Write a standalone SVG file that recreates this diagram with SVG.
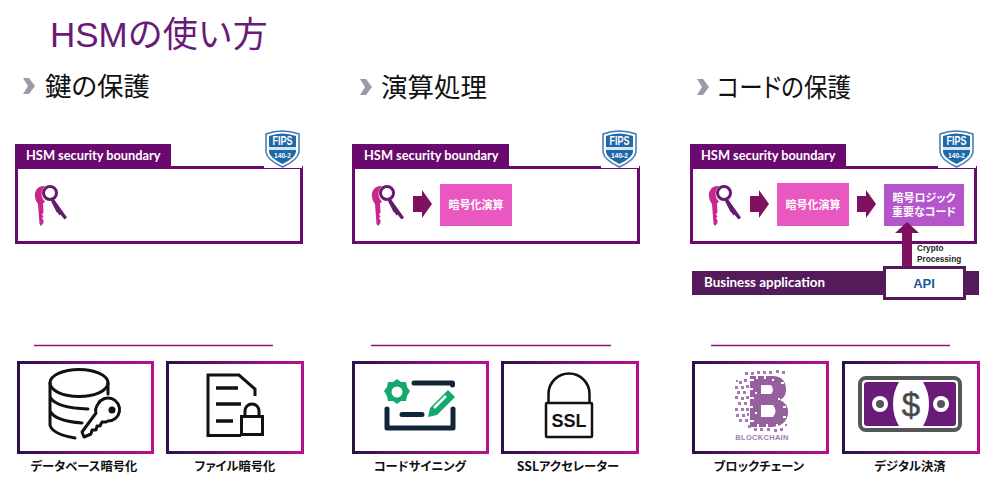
<svg xmlns="http://www.w3.org/2000/svg" width="1000" height="490" viewBox="0 0 1000 490">
<style>
text{font-family:"Liberation Sans","Noto Sans CJK JP",sans-serif}
.title{font-size:35px;fill:#6a1b7a}
.head{font-size:26.500px;fill:#111;font-feature-settings:"palt"}
.tabt{font-family:Lato,"Noto Sans",sans-serif;font-size:12.800px;font-weight:700;fill:#fff}
.tab{fill:#6a0a6e}
.bound{fill:#fff;stroke:#6a0a6e;stroke-width:3}
.proc{fill:#e858c0}
.wt{font-family:"Noto Sans CJK JP",sans-serif;font-size:11px;font-weight:700;fill:#fff;text-anchor:middle;font-feature-settings:"palt"}
.arrow{fill:#801060}
.cap{font-family:"Noto Sans CJK JP",sans-serif;font-size:12.300px;font-weight:700;fill:#111;text-anchor:middle;font-feature-settings:"palt"}
.card{fill:#fff;stroke:url(#cardg);stroke-width:3}
.rule{stroke:#8e1080;stroke-width:1.500}
.ink{fill:none;stroke:#111;stroke-width:3;stroke-linecap:round;stroke-linejoin:round}
.fipst{font-family:"Liberation Sans",sans-serif;font-weight:700;fill:#fff;text-anchor:middle}
</style>
<defs>
<linearGradient id="cardg" x1="0" y1="0" x2="1" y2="0"><stop offset="0" stop-color="#2a1248"/><stop offset=".5" stop-color="#7a0f78"/><stop offset="1" stop-color="#b8108c"/></linearGradient>
<path id="chev" d="M0 0h6l6 8-6 8H0l5-8z" fill="#9a9aa6"/>
<g id="keys">
<path d="M10 1C3 0-1 6 0 12c.5 3 1.500 5 3 7l1.500 20 1.500 2 2.500-3v-3l-1.500-1.500 1.500-2-1.500-2 1.500-2-.5-9 2-2C6 13 5 6 10 1z" fill="#c8288e"/>
<circle cx="15" cy="8" r="6.500" fill="#fff" stroke="#641a6e" stroke-width="3"/>
<path d="M18.500 13.500l13.500 19-2.500 2-4-5-1 1-2-3-1-.5-5.500-11z" fill="#641a6e"/>
</g>
<g id="shield">
<rect x="-1" y="35" width="38" height="3" fill="#fff"/>
<path d="M1 4Q17-2 34 4V22Q33 30 17.500 37Q2 30 1 22Z" fill="#fff" stroke="#3c78ad" stroke-width="1.500"/>
<path d="M4 6Q17 1 31 6V22Q30 28 17.500 34Q5 28 4 22Z" fill="#1e69a8"/>
<rect x="4" y="17" width="27" height="3" fill="#d8e4ef"/>
</g>
</defs>
<rect width="1000" height="490" fill="#fff"/>
<text class="title" x="50" y="47">HSMの使い方</text>

<g id="col1-head"><use href="#chev" x="23" y="78"/><text class="head" x="45" y="96">鍵の保護</text></g>
<g id="col2-head"><use href="#chev" x="360" y="79"/><text class="head" x="381" y="97">演算処理</text></g>
<g id="col3-head"><use href="#chev" x="697" y="79"/><text class="head" x="717" y="97" textLength="134" lengthAdjust="spacingAndGlyphs">コードの保護</text></g>

<g id="boundary1">
<rect class="bound" x="16.500" y="167.500" width="285" height="75"/>
<rect class="tab" x="15" y="144" width="156" height="23"/>
<text class="tabt" x="26" y="160">HSM security boundary</text>
<g id="fips1"><use href="#shield" x="265" y="130"/><text class="fipst" x="282.500" y="145" font-size="12" textLength="20" lengthAdjust="spacingAndGlyphs">FIPS</text><text class="fipst" x="282.500" y="158" font-size="7.500" textLength="17" lengthAdjust="spacingAndGlyphs">140-2</text></g>
<use href="#keys" x="35" y="185"/>
</g>
<g id="boundary2">
<rect class="bound" x="353.500" y="167.500" width="285" height="75"/>
<rect class="tab" x="352" y="144" width="157" height="23"/>
<text class="tabt" x="364" y="160">HSM security boundary</text>
<g id="fips2"><use href="#shield" x="602" y="130"/><text class="fipst" x="619.500" y="145" font-size="12" textLength="20" lengthAdjust="spacingAndGlyphs">FIPS</text><text class="fipst" x="619.500" y="158" font-size="7.500" textLength="17" lengthAdjust="spacingAndGlyphs">140-2</text></g>
<use href="#keys" x="372" y="185"/>
</g>
<g id="proc2"><rect class="proc" x="440" y="184" width="72" height="42"/><text class="wt" x="476" y="209">暗号化演算</text></g>

<g id="boundary3">
<rect class="bound" x="691.500" y="167.500" width="284" height="75"/>
<rect class="tab" x="690" y="144" width="156" height="23"/>
<text class="tabt" x="701" y="160">HSM security boundary</text>
<g id="fips3"><use href="#shield" x="939" y="130"/><text class="fipst" x="956.500" y="145" font-size="12" textLength="20" lengthAdjust="spacingAndGlyphs">FIPS</text><text class="fipst" x="956.500" y="158" font-size="7.500" textLength="17" lengthAdjust="spacingAndGlyphs">140-2</text></g>
<use href="#keys" x="709" y="185"/>
</g>
<g id="proc3"><rect class="proc" x="777" y="183" width="72" height="43"/><text class="wt" x="813" y="209">暗号化演算</text></g>
<g id="logic"><rect x="884" y="184" width="80" height="42" fill="#b455cc"/><text class="wt" x="924" y="202">暗号ロジック</text><text class="wt" x="924" y="216">重要なコード</text></g>

<g id="connectors">
<path class="arrow" d="M413 196h9v-6l10 14-10 14v-6h-9z"/>
<path class="arrow" d="M750 196h9v-6l10 14-10 14v-6h-9z"/>
<path class="arrow" d="M857 196h9v-6l10 14-10 14v-6h-9z"/>
<path class="arrow" d="M902 267V233H895L907 222 919 233H912V267z"/>
</g>
<text x="917" y="251" font-size="8.200" font-weight="700" fill="#222">Crypto</text>
<text x="917" y="262" font-size="8.200" font-weight="700" fill="#222">Processing</text>

<g id="business">
<rect x="692" y="271" width="287" height="24" fill="#541a5a"/>
<text x="704" y="287" style="font-family:Lato,sans-serif" font-size="13.400" font-weight="700" fill="#fff">Business application</text>
</g>
<g id="api">
<rect x="884.500" y="267.500" width="80" height="31" fill="#fff" stroke="#541a5a" stroke-width="3"/>
<text x="924" y="288" font-size="13" font-weight="700" fill="#1a5aa0" text-anchor="middle">API</text>
</g>

<line class="rule" x1="34" y1="345.500" x2="273" y2="345.500"/>
<line class="rule" x1="371" y1="345.500" x2="611" y2="345.500"/>
<line class="rule" x1="711" y1="345.500" x2="950" y2="345.500"/>

<g id="card-db">
<rect class="card" x="18.500" y="362.500" width="134" height="90"/>
<g class="ink">
<ellipse cx="79" cy="383" rx="29" ry="13.500"/>
<path d="M50 383V425Q52 434 75 438M108 383V394M50 397Q56 408 88 409M50 411Q55 421 82 423"/>
<path d="M98 404a11.500 11.500 0 1 1 10 17l-2 1-4 0-2 4-3 0-1 4-4 0-1 4-7 3-2-5 14-19c-1-3 0-6 2-9z"/>
</g>
<circle cx="112" cy="410" r="3.500" fill="#111"/>
<text class="cap" x="84" y="471">データベース暗号化</text>
</g>
<g id="card-file">
<rect class="card" x="167.500" y="362.500" width="135" height="90"/>
<path d="M241 435.500H208V375H239L255 389V396" fill="none" stroke="#111" stroke-width="3"/>
<path d="M216 388H238M216 404H241M216 421H233" stroke="#111" stroke-width="3.500"/>
<rect x="241.500" y="416.500" width="21" height="18" fill="none" stroke="#111" stroke-width="3"/>
<path d="M245 416V411a7 7 0 0 1 14 0V416" fill="none" stroke="#111" stroke-width="3"/>
<text class="cap" x="235" y="471">ファイル暗号化</text>
</g>
<g id="card-code">
<rect class="card" x="353.500" y="362.500" width="134" height="90"/>
<path d="M414 383H452.500V385M387 409V428H453V409M402 414.500H422" fill="none" stroke="#12263a" stroke-width="5" stroke-linecap="round" stroke-linejoin="round"/>
<path d="M397 379l4 3h5l1 5 3 4-3 5-1 5h-5l-4 3-4-3h-5l-1-5-3-5 3-4 1-5h5z" fill="#12a86e"/>
<circle cx="397" cy="392" r="5.500" fill="#fff"/>
<path d="M448 390l7 7-18 18-9 2 2-9z" fill="#12a86e"/>
<path d="M434 408l12-12" stroke="#fff" stroke-width="2.500"/>
<text class="cap" x="420" y="471">コードサイニング</text>
</g>
<g id="card-ssl">
<rect class="card" x="502.500" y="362.500" width="135" height="90"/>
<path d="M548.500 403V394a20.500 20.500 0 0 1 41 0V403" fill="none" stroke="#111" stroke-width="2.500"/>
<rect x="546" y="403" width="46" height="34" rx="1" fill="none" stroke="#111" stroke-width="2.500"/>
<text x="569" y="427" font-size="18" font-weight="700" fill="#111" text-anchor="middle">SSL</text>
<text class="cap" x="568" y="471">SSLアクセレーター</text>
</g>
<g id="card-blockchain">
<rect class="card" x="693.500" y="362.500" width="134" height="90"/>
<path fill="#96609f" fill-rule="evenodd" d="M750 376H774Q786 377 786 390Q786 397 780 400Q789 404 788 414Q786 426 772 427H750ZM761 385V394H771Q775 390 771 385ZM761 405V417H773Q778 411 773 405Z"/>
<path fill="#fff" d="M750 379h4v2h-4zM756 376h2v3h-2zM764 376h2v3h-2zM772 379h2v2h-2zM781 382h3v2h-3zM750 388h3v2h-3zM750 397h4v2h-4zM755 392h2v2h-2zM750 406h3v2h-3zM755 412h2v2h-2zM750 420h4v2h-4zM757 424h2v3h-2zM766 424h2v3h-2zM776 424h2v3h-2zM783 416h3v2h-3zM783 406h3v2h-3zM778 398h2v2h-2z"/>
<path fill="#a57cb2" d="M745 372h3v3h-3zM751 372h3v3h-3zM757 371h3v3h-3zM763 371h3v3h-3zM769 371h3v3h-3zM776 370h3v3h-3zM782 371h3v3h-3zM739 381h3v3h-3zM744 379h3v3h-3zM736 380h2v2h-2zM735 386h3v3h-3zM741 386h3v3h-3zM746 385h3v3h-3zM737 391h3v3h-3zM743 391h3v3h-3zM735 396h3v3h-3zM741 397h3v3h-3zM746 396h3v3h-3zM738 402h3v3h-3zM744 402h3v3h-3zM735 408h3v3h-3zM741 408h3v3h-3zM746 408h3v3h-3zM736 414h3v3h-3zM742 414h3v3h-3zM747 413h2v3h-2zM739 419h3v3h-3zM745 419h3v3h-3zM748 425h3v3h-3zM754 428h3v3h-3zM760 428h3v3h-3zM767 428h3v3h-3zM774 429h3v3h-3zM780 428h3v3h-3zM785 424h2v2h-2z"/>
<text x="762" y="440" font-size="7.500" font-weight="700" fill="#a27cb4" text-anchor="middle" letter-spacing=".3">BLOCKCHAIN</text>
<text class="cap" x="759" y="471">ブロックチェーン</text>
</g>
<g id="card-payment">
<rect class="card" x="843.500" y="362.500" width="135" height="90"/>
<rect x="860" y="378" width="100" height="52" rx="6" fill="none" stroke="#54565a" stroke-width="4"/>
<rect x="864" y="382" width="92" height="44" rx="3" fill="#6a1b7a"/>
<path d="M899 382H923Q929 392 929 404Q929 416 923 426H899Q893 416 893 404Q893 392 899 382Z" fill="#fff"/>
<circle cx="880" cy="404" r="8" fill="#fff"/><circle cx="880" cy="404" r="4" fill="#54565a"/>
<circle cx="941" cy="404" r="8" fill="#fff"/><circle cx="941" cy="404" r="4" fill="#54565a"/>
<text x="911" y="416" font-size="33" fill="#47494d" stroke="#47494d" stroke-width=".5" text-anchor="middle">$</text>
<text class="cap" x="910" y="471">デジタル決済</text>
</g>
</svg>
